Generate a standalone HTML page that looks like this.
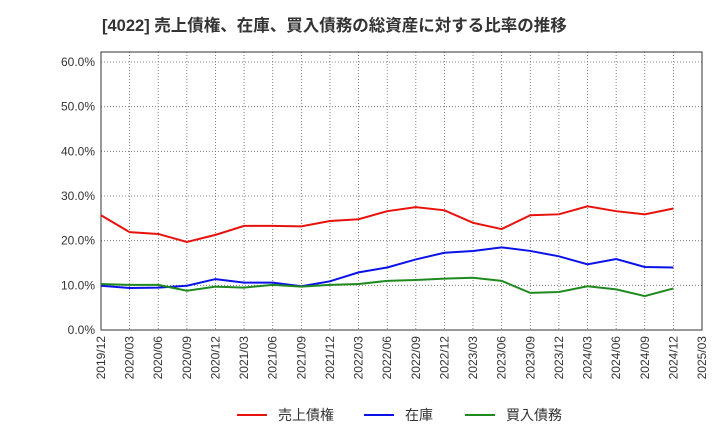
<!DOCTYPE html>
<html><head><meta charset="utf-8">
<style>
body{margin:0;background:#fff;font-family:"Liberation Sans","Noto Sans CJK JP",sans-serif;}
svg text{font-family:"Liberation Sans","Noto Sans CJK JP",sans-serif;}
</style></head>
<body>
<svg id="chart" width="720" height="440" xmlns="http://www.w3.org/2000/svg">
<text x="102" y="31" font-size="16.5" font-weight="bold" fill="#333">[4022]  売上債権、在庫、買入債務の総資産に対する比率の推移</text>
<g id="grid"></g><g id="axes"></g><g id="series"></g><g id="legend"></g>
</svg>
<script>
const categories=["2019/12","2020/03","2020/06","2020/09","2020/12","2021/03","2021/06","2021/09","2021/12","2022/03","2022/06","2022/09","2022/12","2023/03","2023/06","2023/09","2023/12","2024/03","2024/06","2024/09","2024/12","2025/03"];
const receivables=[25.7,21.9,21.5,19.7,21.3,23.3,23.3,23.2,24.4,24.8,26.6,27.5,26.8,24.0,22.6,25.7,25.9,27.7,26.6,25.9,27.2];
const inventory=[9.9,9.4,9.5,9.9,11.4,10.6,10.6,9.8,10.9,12.9,14.0,15.8,17.3,17.7,18.5,17.7,16.5,14.7,15.9,14.1,14.0];
const payables=[10.3,10.1,10.1,8.8,9.7,9.5,10.1,9.7,10.1,10.3,11.0,11.2,11.5,11.7,11.0,8.3,8.5,9.8,9.1,7.6,9.3];
const yTicks=[0,10,20,30,40,50,60];
const seriesNames=["売上債権","在庫","買入債務"];
const colors=["#e8120c","#0a12e8","#1e8a1e"];
const L=101,R=702,T=52,B=330,YMAX=62.24;
const NS="http://www.w3.org/2000/svg";
const x=i=>L+(R-L)*i/(categories.length-1);
const y=v=>B-(B-T)*v/YMAX;
function mk(tag,attrs,parent){const e=document.createElementNS(NS,tag);for(const k in attrs)e.setAttribute(k,attrs[k]);document.getElementById(parent).appendChild(e);return e;}
let r=mk("rect",{x:L,y:T,width:R-L,height:B-T,fill:"none",stroke:"#333","stroke-width":1},"axes");


yTicks.forEach(v=>{
  const g=mk("line",{x1:L,x2:R,y1:y(v),y2:y(v),stroke:"#666","stroke-dasharray":"1,2","stroke-width":0.8},"grid");
  
  
  const t=mk("text",{x:L-6,y:y(v)+4,"text-anchor":"end","font-size":12,fill:"#333"},"axes");
  t.textContent=v.toFixed(1)+"%";
  
  
});
categories.forEach((c,i)=>{
  const g=mk("line",{x1:x(i),x2:x(i),y1:T,y2:B,stroke:"#666","stroke-dasharray":"1,2","stroke-width":0.8},"grid");
  
  
  const t=mk("text",{x:0,y:0,"text-anchor":"end","font-size":12,fill:"#333",transform:`translate(${x(i)+4},${B+6}) rotate(-90)`},"axes");
  t.textContent=c;
  
  
});
[receivables,inventory,payables].forEach((d,s)=>{
  const p=mk("polyline",{points:d.map((v,i)=>x(i)+","+y(v)).join(" "),fill:"none",stroke:colors[s],"stroke-width":2},"series");
  
  
});
const lx=[237,364,465];
seriesNames.forEach((n,s)=>{
  const l=mk("line",{x1:lx[s],x2:lx[s]+30,y1:415,y2:415,stroke:colors[s],"stroke-width":2},"legend");
  
  
  const t=mk("text",{x:lx[s]+41,y:420,"font-size":14,fill:"#333"},"legend");
  t.textContent=n;
  
  
});
</script>
</body></html>
